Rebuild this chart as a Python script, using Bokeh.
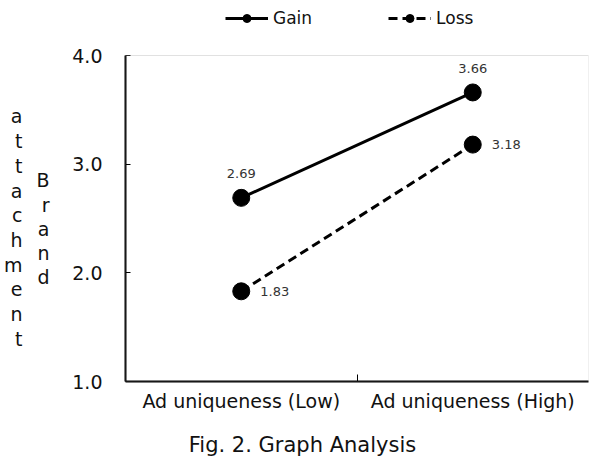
from bokeh.plotting import figure
from bokeh.models import (FixedTicker, Legend, LegendItem, LabelSet, LinearAxis,
                          ColumnDataSource, Range1d, BoxAnnotation)
from bokeh.core.properties import value
from bokeh.embed import file_html
from bokeh.resources import INLINE

categories = ["Ad uniqueness (Low)", "Ad uniqueness (High)"]
gain = [2.69, 3.66]
loss = [1.83, 3.18]
y_ticks = [1.0, 2.0, 3.0, 4.0]
y_tick_labels = ["1.0", "2.0", "3.0", "4.0"]
series_names = ["Gain", "Loss"]
y_title_words = ["Brand", "attachment"]
caption = "Fig. 2. Graph Analysis"

FONT = "DejaVu Sans"
x_pos = [0.5, 1.5]
X0, X1 = 0.0, 2.0
Y0, Y1 = 1.0, 4.0
W, H = 608, 465
FRAME_LEFT, FRAME_RIGHT = 125, 588
BOX_TOP, BOX_BOTTOM = 55, 381          # pixel rows of the value box (4.0 and 1.0)
PX_PER_UNIT = (BOX_BOTTOM - BOX_TOP) / (Y1 - Y0)
Y_FRAME_TOP = Y0 + BOX_BOTTOM / PX_PER_UNIT   # frame reaches the top edge (room for legend)


def px_to_y(py):
    return Y0 + (BOX_BOTTOM - py) / PX_PER_UNIT


def px_to_x(px):
    return X0 + (px - FRAME_LEFT) * (X1 - X0) / (FRAME_RIGHT - FRAME_LEFT)


p = figure(width=W, height=H, x_range=Range1d(X0, X1), y_range=Range1d(Y0, Y_FRAME_TOP),
           output_backend="svg", toolbar_location=None, title=None,
           min_border_left=FRAME_LEFT, min_border_right=W - FRAME_RIGHT,
           min_border_top=0, min_border_bottom=H - BOX_BOTTOM)
p.xgrid.visible = False
p.ygrid.visible = False
p.outline_line_color = None
p.background_fill_color = "white"
p.border_fill_color = "white"

# value box outline (thin grey top/right, axes cover left/bottom)
p.add_layout(BoxAnnotation(left=X0, right=X1, bottom=Y0, top=Y1, fill_alpha=0,
                           line_color="#9a9a9a", line_width=1))

src_g = ColumnDataSource(dict(x=x_pos, y=gain, t=["%.2f" % v for v in gain]))
src_l = ColumnDataSource(dict(x=x_pos, y=loss, t=["%.2f" % v for v in loss]))

lg = p.line("x", "y", source=src_g, line_color="black", line_width=3)
sg = p.scatter("x", "y", source=src_g, size=17, fill_color="black", line_color="black")
ll = p.line("x", "y", source=src_l, line_color="black", line_width=3, line_dash="9 5")
sl = p.scatter("x", "y", source=src_l, size=17, fill_color="black", line_color="black")

p.add_layout(LabelSet(x="x", y="y", text="t", source=src_g, text_align="center",
                      text_baseline="middle", y_offset=24, text_font=value(FONT),
                      text_font_size="13px", text_color="#333333"))
p.add_layout(LabelSet(x="x", y="y", text="t", source=src_l, text_align="left",
                      text_baseline="middle", x_offset=19, text_font=value(FONT),
                      text_font_size="13px", text_color="#333333"))

# x axis
xa = p.xaxis[0]
xa.ticker = FixedTicker(ticks=x_pos, minor_ticks=[1.0])
xa.major_label_overrides = {x_pos[0]: categories[0], x_pos[1]: categories[1]}
xa.major_tick_line_color = None
xa.major_tick_in = 0
xa.major_tick_out = 0
xa.minor_tick_in = 7
xa.minor_tick_out = 0
xa.minor_tick_line_color = "black"
xa.axis_line_width = 2
xa.axis_line_color = "black"
xa.major_label_text_font = FONT
xa.major_label_text_font_size = "19px"
xa.major_label_text_color = "#111111"
xa.major_label_standoff = 8

# y axis
ya = p.yaxis[0]
ya.ticker = FixedTicker(ticks=y_ticks, minor_ticks=[])
ya.major_label_overrides = {t: s for t, s in zip(y_ticks, y_tick_labels)}
ya.bounds = (Y0, Y1)
ya.major_tick_in = 5
ya.major_tick_out = 0
ya.major_tick_line_color = "black"
ya.axis_line_width = 2
ya.axis_line_color = "black"
ya.major_label_text_font = FONT
ya.major_label_text_font_size = "19px"
ya.major_label_text_color = "#111111"
ya.major_label_standoff = 23


def text_axis(side, ticks, texts, standoff, size):
    ax = LinearAxis(ticker=FixedTicker(ticks=ticks, minor_ticks=[]),
                    major_label_overrides={t: s for t, s in zip(ticks, texts)},
                    axis_line_color=None, major_tick_line_color=None,
                    minor_tick_line_color=None, major_tick_in=0, major_tick_out=0,
                    minor_tick_in=0, minor_tick_out=0, major_label_standoff=standoff,
                    major_label_text_font=FONT, major_label_text_font_size=size,
                    major_label_text_color="#111111")
    p.add_layout(ax, side)
    return ax


def letters(word, first_center_px, pitch_px):
    ticks = [round(px_to_y(first_center_px + i * pitch_px), 4) for i in range(len(word))]
    return ticks, list(word)


# stacked axis title: "Brand" next to the ticks, "attachment" outermost
t_b, l_b = letters(y_title_words[0], 180, 24.25)
text_axis("left", t_b, l_b, 20, "19px")
t_a, l_a = letters(y_title_words[1], 116, 24.7)
text_axis("left", t_a, l_a, 11, "19px")

# caption below the category labels
text_axis("below", [round(px_to_x(302), 4)], [caption], 18, "21px")

legend = Legend(items=[LegendItem(label=series_names[0], renderers=[lg, sg]),
                       LegendItem(label=series_names[1], renderers=[ll, sl])],
                location=(100, BOX_BOTTOM - 28), orientation="horizontal",
                padding=0, margin=0, spacing=76, glyph_width=43, glyph_height=20,
                label_standoff=5, label_text_font=FONT, label_text_font_size="17px",
                label_text_color="#111111",
                border_line_color=None, background_fill_alpha=0)
p.add_layout(legend, "center")

open("out.html", "w").write(file_html(p, INLINE))
